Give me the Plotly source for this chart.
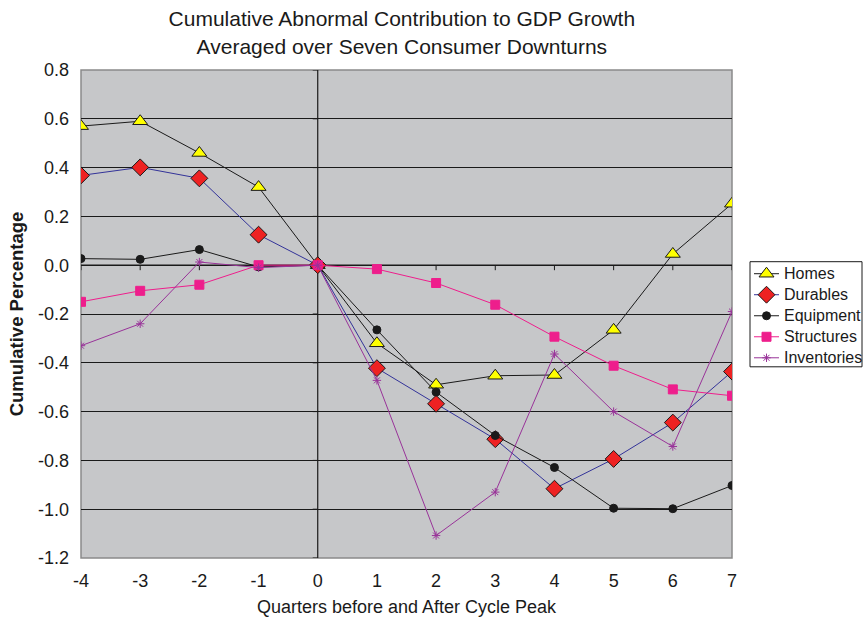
import plotly.graph_objects as go

# Quarters relative to the cycle peak
quarters = [-4, -3, -2, -1, 0, 1, 2, 3, 4, 5, 6, 7]

homes = [0.57, 0.59, 0.46, 0.32, 0.0, -0.32, -0.49, -0.453, -0.45, -0.265, 0.046, 0.252]
durables = [0.368, 0.401, 0.356, 0.125, 0.0, -0.422, -0.568, -0.713, -0.916, -0.794, -0.645, -0.436]
equipment = [0.027, 0.024, 0.064, -0.007, 0.0, -0.265, -0.52, -0.698, -0.829, -0.996, -0.998, -0.903]
structures = [-0.15, -0.105, -0.08, 0.0, 0.0, -0.016, -0.073, -0.162, -0.293, -0.412, -0.509, -0.535]
inventories = [-0.33, -0.24, 0.013, -0.01, 0.0, -0.472, -1.108, -0.93, -0.364, -0.60, -0.743, -0.19]

y_ticks = [0.8, 0.6, 0.4, 0.2, 0.0, -0.2, -0.4, -0.6, -0.8, -1.0, -1.2]
y_labels = ["0.8", "0.6", "0.4", "0.2", "0.0", "-0.2", "-0.4", "-0.6", "-0.8", "-1.0", "-1.2"]
x_labels = ["-4", "-3", "-2", "-1", "0", "1", "2", "3", "4", "5", "6", "7"]

FONT = "Liberation Sans, Arial, sans-serif"
INK = "#1a1a1a"

series = [
    ("Homes", homes, INK, dict(symbol="triangle-up", size=13, color="#FFFF00",
                                line=dict(color=INK, width=1))),
    ("Durables", durables, "#333399", dict(symbol="diamond", size=13, color="#EE2222",
                                           line=dict(color=INK, width=1))),
    ("Equipment", equipment, INK, dict(symbol="circle", size=8, color=INK,
                                       line=dict(color=INK, width=1))),
    ("Structures", structures, "#EE1E8C", dict(symbol="square", size=9, color="#EE1E8C",
                                               line=dict(color="#EE1E8C", width=1))),
    ("Inventories", inventories, "#993399", dict(symbol="asterisk-open", size=7,
                                                 color="#993399",
                                                 line=dict(color="#993399", width=1))),
]

fig = go.Figure()
for name, vals, lc, mk in series:
    fig.add_trace(go.Scatter(
        x=quarters, y=vals, name=name, mode="lines+markers",
        line=dict(color=lc, width=1), marker=mk, showlegend=False,
    ))

# Boxed key drawn in its own small subplot (x2/y2 measured in pixels inside the box)
key_w, key_h = 112, 105
annotations = []
for i, (name, vals, lc, mk) in enumerate(series):
    row = 12 + 21 * i
    fig.add_trace(go.Scatter(
        x=[4, 29], y=[row, row], mode="lines", line=dict(color=lc, width=1),
        xaxis="x2", yaxis="y2", showlegend=False, hoverinfo="skip",
    ))
    fig.add_trace(go.Scatter(
        x=[16.5], y=[row], mode="markers", marker=mk, cliponaxis=False,
        xaxis="x2", yaxis="y2", showlegend=False, hoverinfo="skip",
    ))
    annotations.append(dict(
        x=32, y=row, xref="x2", yref="y2", text=name, showarrow=False,
        xanchor="left", yanchor="middle", font=dict(size=16, color=INK),
    ))

shapes = [
    # grey plot area
    dict(type="rect", xref="x domain", yref="y domain", x0=0, x1=1, y0=0, y1=1,
         fillcolor="#C6C7C9", line=dict(color="#8a8a8a", width=1.5), layer="below"),
    # key frame
    dict(type="rect", xref="x2 domain", yref="y2 domain", x0=0, x1=1, y0=0, y1=1,
         fillcolor="white", line=dict(color=INK, width=1), layer="below"),
    # axes crossing at zero
    dict(type="line", xref="x", yref="y", x0=0, x1=0, y0=-1.2, y1=0.8,
         line=dict(color=INK, width=1.2), layer="below"),
    dict(type="line", xref="x", yref="y", x0=-4, x1=7, y0=0, y1=0,
         line=dict(color=INK, width=1.2), layer="below"),
]
for q in quarters:
    shapes.append(dict(type="line", xref="x", yref="y", ysizemode="pixel", yanchor=0,
                       x0=q, x1=q, y0=0, y1=-5, line=dict(color=INK, width=1),
                       layer="below"))
for v in y_ticks:
    shapes.append(dict(type="line", xref="x", yref="y", xsizemode="pixel", xanchor=0,
                       x0=-5, x1=0, y0=v, y1=v, line=dict(color=INK, width=1),
                       layer="below"))

fig.update_layout(
    width=867, height=625,
    margin=dict(l=81, r=5, t=70, b=67, autoexpand=False),
    paper_bgcolor="white",
    plot_bgcolor="rgba(0,0,0,0)",
    font=dict(family=FONT, color=INK, size=18),
    showlegend=False,
    title=dict(
        text="Cumulative Abnormal Contribution to GDP Growth<br>Averaged over Seven Consumer Downturns",
        x=0.4635, xanchor="center", y=0.958, yanchor="top",
        font=dict(family=FONT, size=21, color=INK),
    ),
    xaxis=dict(
        domain=[0, 651 / 781],
        range=[-4, 7], tickvals=quarters, ticktext=x_labels,
        showgrid=False, zeroline=False, showline=False, ticks="",
        tickfont=dict(size=18), ticklabelstandoff=10,
        title=dict(text="Quarters before and After Cycle Peak", font=dict(size=18), standoff=10),
    ),
    yaxis=dict(
        range=[-1.2, 0.8], tickvals=y_ticks, ticktext=y_labels,
        showgrid=True, gridcolor=INK, gridwidth=1,
        zeroline=False, showline=False, ticks="",
        tickfont=dict(size=18), ticklabelstandoff=11,
        title=dict(text="<b>Cumulative Percentage</b>", font=dict(size=18.5), standoff=9),
    ),
    xaxis2=dict(
        domain=[669 / 781, 1.0], range=[0, key_w], anchor="y2",
        visible=False, fixedrange=True,
    ),
    yaxis2=dict(
        domain=[191 / 487.5, 296 / 487.5], range=[key_h, 0], anchor="x2",
        visible=False, fixedrange=True,
    ),
    annotations=annotations,
    shapes=shapes,
)

fig.write_html("out.html")
